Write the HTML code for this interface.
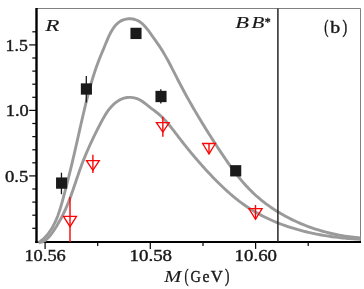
<!DOCTYPE html>
<html><head><meta charset="utf-8"><title>chart</title>
<style>html,body{margin:0;padding:0;background:#fff}svg{display:block}</style>
</head><body>
<svg width="364" height="289" viewBox="0 0 364 289" style="will-change:transform">
<rect x="0" y="0" width="364" height="289" fill="#fff"/>
<path d="M36.5,8.5 H360.5 V242.0" fill="none" stroke="#808080" stroke-width="1"/>
<line x1="36.5" y1="8" x2="36.5" y2="243.05" stroke="#000" stroke-width="2.4"/>
<line x1="35.3" y1="242.0" x2="361" y2="242.0" stroke="#000" stroke-width="2.2"/>
<path d="M38.40,242.50 L40.27,241.37 L42.05,240.01 L43.73,238.54 L45.33,236.96 L46.84,235.30 L48.27,233.55 L49.61,231.72 L50.88,229.84 L52.07,227.91 L53.19,225.94 L54.24,223.94 L55.22,221.91 L56.15,219.85 L57.01,217.78 L57.83,215.68 L58.60,213.57 L59.33,211.43 L60.03,209.29 L60.69,207.13 L61.33,204.96 L61.95,202.79 L62.55,200.61 L63.15,198.42 L63.73,196.24 L64.31,194.05 L64.89,191.86 L65.47,189.67 L66.03,187.48 L66.60,185.29 L67.16,183.10 L67.71,180.90 L68.26,178.71 L68.81,176.52 L69.36,174.32 L69.90,172.13 L70.43,169.93 L70.96,167.74 L71.49,165.54 L72.02,163.34 L72.54,161.15 L73.06,158.95 L73.57,156.75 L74.08,154.55 L74.59,152.36 L75.10,150.16 L75.60,147.96 L76.10,145.76 L76.60,143.57 L77.10,141.37 L77.59,139.17 L78.09,136.97 L78.58,134.78 L79.08,132.58 L79.57,130.38 L80.07,128.18 L80.57,125.98 L81.07,123.78 L81.57,121.58 L82.08,119.38 L82.59,117.18 L83.10,114.98 L83.62,112.78 L84.14,110.58 L84.67,108.37 L85.20,106.17 L85.74,103.96 L86.28,101.76 L86.84,99.55 L87.40,97.35 L87.97,95.14 L88.54,92.94 L89.13,90.74 L89.73,88.55 L90.34,86.36 L90.95,84.17 L91.58,82.00 L92.23,79.83 L92.88,77.67 L93.55,75.52 L94.23,73.38 L94.93,71.25 L95.64,69.14 L96.37,67.04 L97.12,64.96 L97.88,62.89 L98.66,60.84 L99.46,58.81 L100.27,56.78 L101.10,54.75 L101.94,52.71 L102.80,50.65 L103.67,48.57 L104.55,46.45 L105.44,44.29 L106.35,42.09 L107.28,39.87 L108.24,37.66 L109.25,35.46 L110.31,33.31 L111.44,31.23 L112.64,29.23 L113.93,27.35 L115.31,25.60 L116.81,24.00 L118.42,22.58 L120.16,21.36 L122.04,20.36 L124.06,19.59 L126.18,19.07 L128.38,18.80 L130.59,18.78 L132.80,19.02 L134.95,19.51 L137.01,20.26 L138.95,21.27 L140.78,22.50 L142.51,23.93 L144.15,25.52 L145.72,27.24 L147.22,29.06 L148.67,30.96 L150.07,32.89 L151.44,34.83 L152.78,36.74 L154.11,38.62 L155.43,40.46 L156.72,42.29 L157.99,44.11 L159.24,45.94 L160.46,47.78 L161.65,49.65 L162.82,51.54 L163.97,53.46 L165.10,55.39 L166.20,57.34 L167.29,59.31 L168.37,61.30 L169.43,63.29 L170.49,65.30 L171.53,67.31 L172.57,69.33 L173.60,71.36 L174.63,73.39 L175.66,75.42 L176.69,77.44 L177.73,79.47 L178.77,81.48 L179.81,83.50 L180.87,85.50 L181.93,87.50 L182.99,89.50 L184.06,91.49 L185.14,93.47 L186.23,95.45 L187.32,97.43 L188.41,99.39 L189.51,101.36 L190.62,103.32 L191.74,105.28 L192.86,107.23 L193.98,109.17 L195.12,111.12 L196.25,113.06 L197.40,114.99 L198.55,116.93 L199.70,118.85 L200.87,120.78 L202.03,122.70 L203.21,124.62 L204.39,126.54 L205.57,128.45 L206.76,130.36 L207.96,132.27 L209.16,134.18 L210.36,136.08 L211.58,137.98 L212.80,139.88 L214.02,141.78 L215.25,143.68 L216.48,145.58 L217.72,147.47 L218.97,149.36 L220.22,151.26 L221.48,153.15 L222.74,155.04 L224.01,156.92 L225.28,158.80 L226.57,160.68 L227.87,162.55 L229.17,164.41 L230.49,166.27 L231.82,168.11 L233.17,169.94 L234.52,171.76 L235.90,173.57 L237.29,175.36 L238.70,177.13 L240.13,178.89 L241.57,180.62 L243.04,182.34 L244.53,184.04 L246.04,185.71 L247.57,187.36 L249.13,188.99 L250.71,190.59 L252.32,192.16 L253.96,193.70 L255.61,195.22 L257.29,196.72 L259.00,198.18 L260.72,199.62 L262.47,201.04 L264.24,202.43 L266.03,203.79 L267.84,205.12 L269.67,206.43 L271.52,207.71 L273.39,208.97 L275.28,210.20 L277.18,211.40 L279.11,212.58 L281.05,213.73 L283.01,214.85 L284.98,215.95 L286.97,217.02 L288.97,218.07 L290.99,219.09 L293.02,220.08 L295.07,221.05 L297.13,221.99 L299.20,222.91 L301.29,223.80 L303.38,224.66 L305.49,225.49 L307.61,226.30 L309.73,227.09 L311.87,227.85 L314.02,228.58 L316.17,229.28 L318.34,229.96 L320.51,230.62 L322.69,231.24 L324.87,231.85 L327.06,232.42 L329.26,232.97 L331.46,233.49 L333.67,233.99 L335.88,234.46 L338.09,234.91 L340.31,235.33 L342.53,235.72 L344.76,236.09 L346.98,236.43 L349.21,236.74 L351.43,237.03 L353.66,237.30 L355.89,237.53 L358.11,237.74 L360.34,237.93" fill="none" stroke="#9a9a9a" stroke-width="2.9" stroke-linejoin="round"/>
<path d="M38.89,242.50 L40.69,242.40 L42.35,241.89 L43.89,241.16 L45.32,240.25 L46.66,239.20 L47.93,238.02 L49.14,236.75 L50.29,235.40 L51.40,233.97 L52.46,232.50 L53.48,230.99 L54.48,229.47 L55.45,227.94 L56.40,226.41 L57.33,224.88 L58.23,223.36 L59.12,221.83 L59.99,220.29 L60.83,218.75 L61.66,217.20 L62.46,215.65 L63.25,214.08 L64.01,212.50 L64.76,210.91 L65.48,209.31 L66.19,207.70 L66.88,206.08 L67.56,204.45 L68.23,202.81 L68.88,201.16 L69.51,199.50 L70.14,197.84 L70.76,196.17 L71.37,194.49 L71.97,192.81 L72.56,191.13 L73.15,189.44 L73.73,187.75 L74.31,186.05 L74.88,184.36 L75.46,182.66 L76.03,180.96 L76.60,179.27 L77.18,177.57 L77.76,175.88 L78.34,174.18 L78.92,172.49 L79.52,170.81 L80.11,169.12 L80.72,167.45 L81.34,165.78 L81.96,164.11 L82.59,162.45 L83.24,160.79 L83.89,159.15 L84.55,157.50 L85.23,155.86 L85.91,154.23 L86.60,152.60 L87.29,150.97 L88.00,149.35 L88.72,147.73 L89.44,146.12 L90.17,144.50 L90.91,142.90 L91.66,141.29 L92.41,139.69 L93.18,138.09 L93.95,136.49 L94.73,134.89 L95.51,133.30 L96.30,131.71 L97.10,130.12 L97.91,128.53 L98.72,126.94 L99.54,125.35 L100.37,123.76 L101.20,122.17 L102.04,120.59 L102.90,119.01 L103.77,117.45 L104.67,115.90 L105.60,114.37 L106.56,112.88 L107.56,111.41 L108.60,109.97 L109.69,108.58 L110.83,107.23 L112.02,105.93 L113.28,104.68 L114.60,103.49 L115.99,102.37 L117.45,101.32 L118.96,100.37 L120.53,99.53 L122.15,98.80 L123.82,98.22 L125.53,97.78 L127.28,97.50 L129.05,97.38 L130.83,97.41 L132.60,97.59 L134.36,97.91 L136.08,98.37 L137.75,98.96 L139.37,99.68 L140.91,100.52 L142.41,101.46 L143.86,102.48 L145.28,103.55 L146.69,104.66 L148.08,105.79 L149.48,106.92 L150.89,108.02 L152.32,109.10 L153.76,110.17 L155.18,111.24 L156.59,112.33 L157.97,113.45 L159.31,114.61 L160.62,115.79 L161.90,117.01 L163.15,118.26 L164.38,119.54 L165.58,120.84 L166.76,122.16 L167.92,123.51 L169.07,124.87 L170.20,126.24 L171.31,127.63 L172.42,129.03 L173.52,130.44 L174.61,131.85 L175.69,133.27 L176.77,134.69 L177.86,136.11 L178.94,137.53 L180.03,138.94 L181.12,140.34 L182.21,141.74 L183.31,143.14 L184.41,144.54 L185.52,145.92 L186.63,147.31 L187.74,148.69 L188.86,150.06 L189.98,151.43 L191.11,152.80 L192.24,154.16 L193.38,155.52 L194.52,156.87 L195.66,158.22 L196.81,159.56 L197.97,160.90 L199.13,162.24 L200.30,163.57 L201.48,164.89 L202.66,166.21 L203.84,167.53 L205.03,168.85 L206.23,170.15 L207.44,171.46 L208.65,172.76 L209.87,174.05 L211.09,175.34 L212.32,176.63 L213.56,177.91 L214.81,179.19 L216.06,180.46 L217.32,181.73 L218.59,182.99 L219.87,184.25 L221.16,185.50 L222.45,186.73 L223.75,187.97 L225.06,189.19 L226.38,190.40 L227.71,191.60 L229.05,192.79 L230.39,193.97 L231.75,195.14 L233.11,196.29 L234.49,197.43 L235.87,198.56 L237.27,199.67 L238.67,200.77 L240.09,201.85 L241.51,202.92 L242.95,203.96 L244.40,204.99 L245.85,206.01 L247.32,207.00 L248.80,207.98 L250.29,208.93 L251.79,209.87 L253.30,210.79 L254.83,211.70 L256.36,212.58 L257.90,213.45 L259.45,214.30 L261.00,215.14 L262.57,215.96 L264.15,216.76 L265.73,217.54 L267.33,218.31 L268.93,219.06 L270.54,219.79 L272.15,220.51 L273.78,221.22 L275.41,221.90 L277.05,222.58 L278.70,223.23 L280.35,223.87 L282.01,224.50 L283.68,225.11 L285.35,225.71 L287.03,226.29 L288.71,226.85 L290.40,227.41 L292.10,227.94 L293.80,228.47 L295.50,228.98 L297.21,229.47 L298.93,229.95 L300.65,230.42 L302.37,230.88 L304.10,231.32 L305.83,231.75 L307.57,232.16 L309.31,232.57 L311.05,232.96 L312.79,233.33 L314.54,233.70 L316.29,234.05 L318.05,234.39 L319.80,234.72 L321.56,235.04 L323.32,235.35 L325.08,235.64 L326.84,235.92 L328.60,236.19 L330.37,236.45 L332.13,236.70 L333.90,236.94 L335.67,237.17 L337.44,237.39 L339.20,237.60 L340.97,237.79 L342.74,237.98 L344.50,238.16 L346.27,238.32 L348.03,238.48 L349.80,238.63 L351.56,238.77 L353.32,238.90 L355.08,239.02 L356.84,239.13 L358.59,239.24 L360.35,239.33" fill="none" stroke="#9a9a9a" stroke-width="2.9" stroke-linejoin="round"/>
<line x1="277.9" y1="8.5" x2="277.9" y2="242.0" stroke="#262626" stroke-width="1.5"/>
<line x1="32.3" y1="228.3" x2="36.5" y2="228.3" stroke="#0a0a0a" stroke-width="1.25"/>
<line x1="32.3" y1="215.2" x2="36.5" y2="215.2" stroke="#0a0a0a" stroke-width="1.25"/>
<line x1="32.3" y1="202.1" x2="36.5" y2="202.1" stroke="#0a0a0a" stroke-width="1.25"/>
<line x1="32.3" y1="189.0" x2="36.5" y2="189.0" stroke="#0a0a0a" stroke-width="1.25"/>
<line x1="29.2" y1="175.9" x2="36.5" y2="175.9" stroke="#0a0a0a" stroke-width="1.25"/>
<line x1="32.3" y1="162.8" x2="36.5" y2="162.8" stroke="#0a0a0a" stroke-width="1.25"/>
<line x1="32.3" y1="149.8" x2="36.5" y2="149.8" stroke="#0a0a0a" stroke-width="1.25"/>
<line x1="32.3" y1="136.6" x2="36.5" y2="136.6" stroke="#0a0a0a" stroke-width="1.25"/>
<line x1="32.3" y1="123.5" x2="36.5" y2="123.5" stroke="#0a0a0a" stroke-width="1.25"/>
<line x1="29.2" y1="110.4" x2="36.5" y2="110.4" stroke="#0a0a0a" stroke-width="1.25"/>
<line x1="32.3" y1="97.3" x2="36.5" y2="97.3" stroke="#0a0a0a" stroke-width="1.25"/>
<line x1="32.3" y1="84.2" x2="36.5" y2="84.2" stroke="#0a0a0a" stroke-width="1.25"/>
<line x1="32.3" y1="71.1" x2="36.5" y2="71.1" stroke="#0a0a0a" stroke-width="1.25"/>
<line x1="32.3" y1="58.0" x2="36.5" y2="58.0" stroke="#0a0a0a" stroke-width="1.25"/>
<line x1="29.2" y1="44.9" x2="36.5" y2="44.9" stroke="#0a0a0a" stroke-width="1.25"/>
<line x1="32.3" y1="31.8" x2="36.5" y2="31.8" stroke="#0a0a0a" stroke-width="1.25"/>
<line x1="45.1" y1="242.0" x2="45.1" y2="248.9" stroke="#0a0a0a" stroke-width="1.25"/>
<line x1="97.7" y1="242.0" x2="97.7" y2="246.1" stroke="#0a0a0a" stroke-width="1.25"/>
<line x1="150.3" y1="242.0" x2="150.3" y2="248.9" stroke="#0a0a0a" stroke-width="1.25"/>
<line x1="203.0" y1="242.0" x2="203.0" y2="246.1" stroke="#0a0a0a" stroke-width="1.25"/>
<line x1="255.6" y1="242.0" x2="255.6" y2="248.9" stroke="#0a0a0a" stroke-width="1.25"/>
<line x1="308.2" y1="242.0" x2="308.2" y2="246.1" stroke="#0a0a0a" stroke-width="1.25"/>
<line x1="61.45" y1="172.7" x2="61.45" y2="194.2" stroke="#1a1a1a" stroke-width="1.3"/>
<rect x="56.05" y="177.45" width="11.1" height="11.3" fill="#1a1a1a"/>
<line x1="86.3" y1="76.0" x2="86.3" y2="102.4" stroke="#1a1a1a" stroke-width="1.3"/>
<rect x="80.85" y="83.35" width="11.1" height="11.3" fill="#1a1a1a"/>
<rect x="130.45" y="27.75" width="11.1" height="11.3" fill="#1a1a1a"/>
<line x1="160.8" y1="89.3" x2="160.8" y2="103.4" stroke="#1a1a1a" stroke-width="1.3"/>
<rect x="155.45" y="90.85" width="11.1" height="11.3" fill="#1a1a1a"/>
<rect x="230.15" y="165.15" width="11.1" height="11.3" fill="#1a1a1a"/>
<line x1="70.0" y1="196.9" x2="70.0" y2="242.0" stroke="#fa0505" stroke-width="1.4"/>
<path d="M63.5,216.3 L76.5,216.3 L70.0,226.7 Z" fill="none" stroke="#fa0505" stroke-width="1.3" stroke-linejoin="miter"/>
<line x1="92.9" y1="154.7" x2="92.9" y2="173.1" stroke="#fa0505" stroke-width="1.4"/>
<path d="M86.5,160.6 L99.3,160.6 L92.9,170.3 Z" fill="none" stroke="#fa0505" stroke-width="1.3" stroke-linejoin="miter"/>
<line x1="162.85" y1="116.8" x2="162.85" y2="136.8" stroke="#fa0505" stroke-width="1.4"/>
<path d="M156.4,122.6 L169.2,122.6 L162.85,132.2 Z" fill="none" stroke="#fa0505" stroke-width="1.3" stroke-linejoin="miter"/>
<line x1="209.0" y1="143.5" x2="209.0" y2="153.9" stroke="#fa0505" stroke-width="1.4"/>
<path d="M202.6,143.5 L215.4,143.5 L209.0,153.9 Z" fill="none" stroke="#fa0505" stroke-width="1.3" stroke-linejoin="miter"/>
<line x1="255.5" y1="205" x2="255.5" y2="219.3" stroke="#fa0505" stroke-width="1.4"/>
<path d="M248.9,208.6 L262.1,208.6 L255.5,219.3 Z" fill="none" stroke="#fa0505" stroke-width="1.3" stroke-linejoin="miter"/>
<g font-family="'Liberation Serif', serif" fill="#181818" stroke="#181818" stroke-width="0.4">
<text transform="translate(5.60,51.00) scale(1.049,1)" font-size="17">1.5</text>
<text transform="translate(5.80,116.40) scale(1.082,1)" font-size="17">1.0</text>
<text transform="translate(5.00,182.40) scale(1.101,1)" font-size="17">0.5</text>
<text transform="translate(24.40,261.20) scale(1.082,1)" font-size="17">10.56</text>
<text transform="translate(129.50,261.20) scale(1.114,1)" font-size="17">10.58</text>
<text transform="translate(234.60,261.20) scale(1.108,1)" font-size="17">10.60</text>
<text transform="translate(45.18,30.50) scale(1.404,1)" font-size="16.5" font-style="italic" stroke-width="0.12">R</text>
<text transform="translate(235.20,27.80) scale(1.387,1)" font-size="16.2" font-style="italic" stroke-width="0.12">B</text>
<text transform="translate(251.40,27.80) scale(1.296,1)" font-size="16.2" font-style="italic" stroke-width="0.12">B</text>
<text transform="translate(264.70,25.77)" font-size="12">*</text>
<text transform="translate(324.30,33.10) scale(0.665,1)" font-size="19">(</text>
<text transform="translate(330.20,33.10) scale(1.131,1)" font-size="17.5">b</text>
<text transform="translate(342.60,33.10) scale(0.745,1)" font-size="19">)</text>
<text transform="translate(164.22,282.20) scale(1.262,1)" font-size="16.2" font-style="italic" stroke-width="0.12">M</text>
<text transform="translate(184.40,282.30) scale(0.634,1)" font-size="19">(</text>
<text transform="translate(190.50,282.20) scale(0.871,1)" font-size="16.5">G</text>
<text transform="translate(202.60,282.20) scale(0.957,1)" font-size="16.5">e</text>
<text transform="translate(210.70,282.20) scale(1.014,1)" font-size="16.5">V</text>
<text transform="translate(225.00,282.30) scale(0.697,1)" font-size="19">)</text>
</g>
</svg>
</body></html>
